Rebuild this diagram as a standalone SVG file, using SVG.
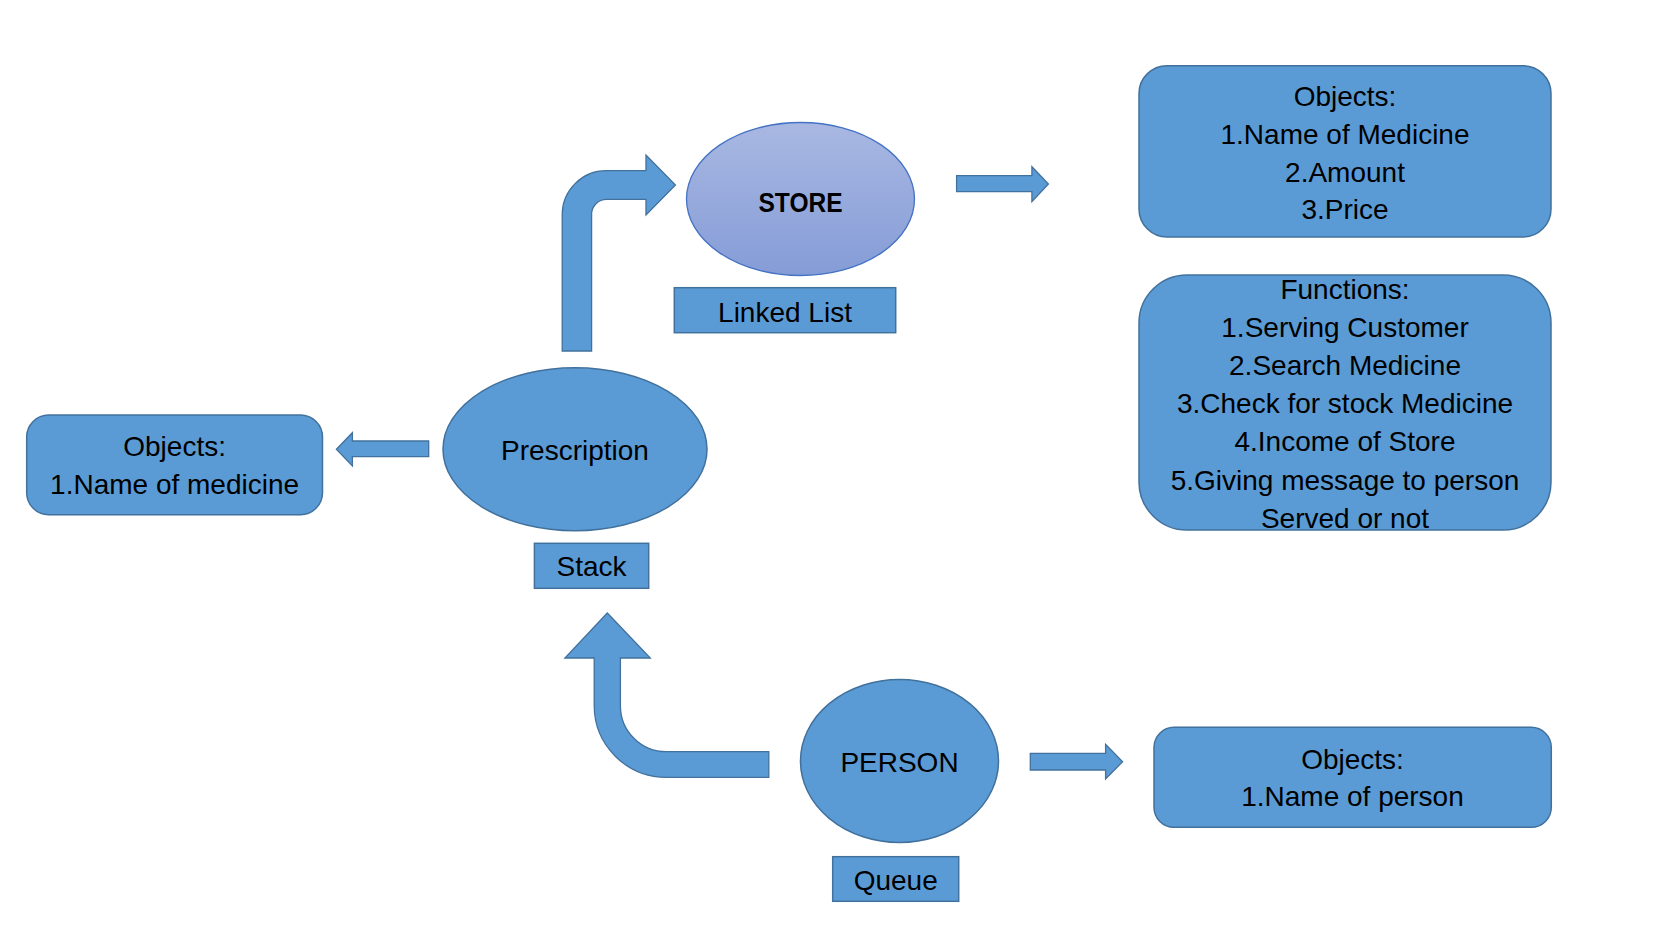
<svg xmlns="http://www.w3.org/2000/svg" width="1674" height="938" viewBox="0 0 1674 938">
<defs>
<linearGradient id="gStore" x1="0" y1="0" x2="0" y2="1">
<stop offset="0" stop-color="#A9B8E2"/>
<stop offset="1" stop-color="#859CD7"/>
</linearGradient>
</defs>
<style>
.sh{fill:#5B9BD5;stroke:#41719C;stroke-width:1.5}
.ar{fill:#5B9BD5;stroke:#41719C;stroke-width:1.3}
.t{font-family:"Liberation Sans",Arial,sans-serif;font-size:28px;fill:#000;text-anchor:middle}
.b{font-weight:bold;font-size:27px}
</style>
<rect width="1674" height="938" fill="#fff"/>
<g id="connectors">
<path class="ar" d="M562.2,351 L562.2,214.7 A44,44 0 0 1 606.2,170.7 L646,170.7 L646,155 L675.4,185 L646,215 L646,199.3 L606.6,199.3 A15,15 0 0 0 591.6,214.3 L591.6,351 Z"/>
<path class="ar" d="M768.8,751.7 L666.4,751.7 A46,46 0 0 1 620.4,705.7 L620.4,658 L650.3,658 L607.3,613 L564.9,658 L594.2,658 L594.2,705.3 A72,72 0 0 0 666.2,777.3 L768.8,777.3 Z"/>
<path class="ar" d="M428.7,441 L352.4,441 L352.4,432.7 L336.4,449.3 L352.4,466 L352.4,456.7 L428.7,456.7 Z"/>
<path class="ar" d="M956.6,175.7 L1031.9,175.7 L1031.9,166.7 L1048.4,184 L1031.9,201.7 L1031.9,191.7 L956.6,191.7 Z"/>
<path class="ar" d="M1030.3,753.3 L1105.6,753.3 L1105.6,744.3 L1122.6,761.7 L1105.6,779 L1105.6,770 L1030.3,770 Z"/>
</g>
<g id="store">
<ellipse cx="800.5" cy="199" rx="114" ry="76.5" fill="url(#gStore)" stroke="#4472C4" stroke-width="1.3"/>
<text class="t b" x="800.5" y="211.5" textLength="84" lengthAdjust="spacingAndGlyphs">STORE</text>
</g>
<g id="linked-list">
<rect class="sh" x="674.3" y="287.7" width="221.4" height="45"/>
<text class="t" x="785" y="321.7">Linked List</text>
</g>
<g id="store-objects">
<rect class="sh" x="1139" y="65.7" width="412" height="171.3" rx="28" ry="28"/>
<text class="t" x="1345" y="106">Objects:</text>
<text class="t" x="1345" y="144">1.Name of Medicine</text>
<text class="t" x="1345" y="181.7">2.Amount</text>
<text class="t" x="1345" y="219.3">3.Price</text>
</g>
<g id="store-functions">
<rect class="sh" x="1139" y="275" width="412" height="255" rx="48" ry="48"/>
<text class="t" x="1345" y="299">Functions:</text>
<text class="t" x="1345" y="337">1.Serving Customer</text>
<text class="t" x="1345" y="375">2.Search Medicine</text>
<text class="t" x="1345" y="413">3.Check for stock Medicine</text>
<text class="t" x="1345" y="450.7">4.Income of Store</text>
<text class="t" x="1345" y="489.5">5.Giving message to person</text>
<text class="t" x="1345" y="527.5">Served or not</text>
</g>
<g id="prescription">
<ellipse class="sh" cx="575" cy="449.2" rx="132" ry="81.5"/>
<text class="t" x="575" y="460">Prescription</text>
</g>
<g id="stack">
<rect class="sh" x="534.4" y="543.3" width="114.3" height="45"/>
<text class="t" x="591.5" y="575.7">Stack</text>
</g>
<g id="prescription-objects">
<rect class="sh" x="26.7" y="415" width="295.8" height="99.7" rx="22" ry="22"/>
<text class="t" x="174.6" y="456">Objects:</text>
<text class="t" x="174.6" y="494">1.Name of medicine</text>
</g>
<g id="person">
<ellipse class="sh" cx="899.5" cy="761" rx="99" ry="81.5"/>
<text class="t" x="899.5" y="771.7">PERSON</text>
</g>
<g id="queue">
<rect class="sh" x="832.7" y="856.7" width="126" height="44.6"/>
<text class="t" x="895.7" y="889.7">Queue</text>
</g>
<g id="person-objects">
<rect class="sh" x="1154" y="727.3" width="397.3" height="100" rx="20" ry="20"/>
<text class="t" x="1352.5" y="769">Objects:</text>
<text class="t" x="1352.5" y="806.3">1.Name of person</text>
</g>
</svg>
